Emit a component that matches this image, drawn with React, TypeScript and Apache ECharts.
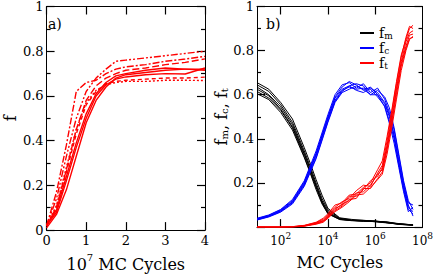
import React, { useEffect, useRef } from 'react';
import * as echarts from 'echarts';

const FONT = 'DejaVu Serif';

// ---------- panel a) ----------
const xA = [0, 0.25, 0.5, 0.75, 1, 1.25, 1.5, 1.75, 2, 2.5, 3, 3.5, 4];
const aSolid1 = [0.01, 0.07, 0.18, 0.33, 0.48, 0.58, 0.64, 0.68, 0.695, 0.705, 0.715, 0.72, 0.72];
const aSolid2 = [0.02, 0.08, 0.22, 0.37, 0.5, 0.6, 0.65, 0.675, 0.685, 0.695, 0.7, 0.698, 0.725];
const aSolid3 = [0.02, 0.09, 0.24, 0.39, 0.52, 0.61, 0.66, 0.69, 0.7, 0.715, 0.725, 0.72, 0.715];
const aDashS = [0.02, 0.1, 0.26, 0.43, 0.56, 0.62, 0.655, 0.665, 0.67, 0.675, 0.68, 0.68, 0.684];
const aDotted = [0.02, 0.11, 0.28, 0.45, 0.57, 0.625, 0.65, 0.66, 0.665, 0.665, 0.67, 0.67, 0.669];
const aDashL = [0.02, 0.1, 0.27, 0.45, 0.58, 0.645, 0.68, 0.7, 0.715, 0.725, 0.74, 0.75, 0.766];
const aDashDot = [0.02, 0.17, 0.38, 0.62, 0.66, 0.67, 0.7, 0.72, 0.73, 0.74, 0.755, 0.765, 0.777];
const aDashDot2 = [0.02, 0.14, 0.33, 0.5, 0.62, 0.68, 0.72, 0.755, 0.76, 0.77, 0.78, 0.79, 0.8];
const aTicksX = ['0', '1', '2', '3', '4'];

// ---------- panel b) (x = log10 of MC cycles) ----------
const xM = [1, 1.5, 2, 2.5, 3, 3.25, 3.5, 3.75, 4, 4.5, 5, 5.5, 6, 6.5, 7, 7.6];
const fm1 = [0.655, 0.625, 0.565, 0.49, 0.36, 0.29, 0.215, 0.145, 0.085, 0.042, 0.035, 0.03, 0.028, 0.022, 0.016, 0.01];
const fm2 = [0.645, 0.615, 0.555, 0.475, 0.345, 0.275, 0.2, 0.13, 0.078, 0.04, 0.032, 0.031, 0.026, 0.024, 0.014, 0.009];
const fm3 = [0.635, 0.6, 0.545, 0.465, 0.335, 0.265, 0.19, 0.12, 0.07, 0.038, 0.03, 0.028, 0.027, 0.02, 0.015, 0.01];
const fm4 = [0.625, 0.595, 0.535, 0.455, 0.33, 0.26, 0.185, 0.115, 0.065, 0.036, 0.031, 0.027, 0.025, 0.021, 0.013, 0.008];
const fm5 = [0.615, 0.585, 0.53, 0.45, 0.32, 0.25, 0.18, 0.11, 0.062, 0.035, 0.029, 0.029, 0.024, 0.019, 0.014, 0.01];
const fm6 = [0.605, 0.578, 0.52, 0.44, 0.315, 0.245, 0.17, 0.105, 0.06, 0.034, 0.03, 0.026, 0.026, 0.02, 0.012, 0.009];

const xC = [1, 1.5, 2, 2.5, 3, 3.5, 4, 4.3, 4.6, 4.9, 5.2, 5.5, 5.8, 6.1, 6.4, 6.6, 6.8, 7.0, 7.2, 7.4, 7.6];
const fc1 = [0.04, 0.055, 0.08, 0.125, 0.21, 0.345, 0.51, 0.6, 0.645, 0.655, 0.63, 0.65, 0.61, 0.63, 0.58, 0.52, 0.44, 0.32, 0.2, 0.11, 0.1];
const fc2 = [0.038, 0.053, 0.078, 0.12, 0.205, 0.335, 0.5, 0.59, 0.635, 0.66, 0.645, 0.62, 0.635, 0.6, 0.56, 0.5, 0.42, 0.3, 0.18, 0.09, 0.07];
const fc3 = [0.036, 0.05, 0.075, 0.115, 0.2, 0.33, 0.495, 0.585, 0.625, 0.64, 0.65, 0.64, 0.6, 0.62, 0.59, 0.54, 0.45, 0.33, 0.21, 0.12, 0.08];
const fc4 = [0.035, 0.05, 0.073, 0.113, 0.195, 0.325, 0.49, 0.575, 0.62, 0.635, 0.625, 0.63, 0.625, 0.59, 0.55, 0.48, 0.4, 0.28, 0.17, 0.08, 0.06];
const fc5 = [0.033, 0.048, 0.07, 0.11, 0.19, 0.315, 0.48, 0.57, 0.615, 0.64, 0.62, 0.61, 0.63, 0.61, 0.565, 0.51, 0.41, 0.29, 0.19, 0.1, 0.05];
const fc6 = [0.032, 0.046, 0.068, 0.105, 0.185, 0.31, 0.475, 0.565, 0.61, 0.625, 0.64, 0.625, 0.6, 0.6, 0.545, 0.47, 0.38, 0.27, 0.16, 0.07, 0.09];

const xT = [1, 2, 2.5, 3, 3.5, 3.8, 4, 4.3, 4.6, 4.9, 5.2, 5.5, 5.8, 6.1, 6.3, 6.5, 6.7, 6.9, 7.1, 7.3, 7.45, 7.6];
const ft1 = [0, 0, 0.002, 0.008, 0.022, 0.04, 0.06, 0.1, 0.11, 0.145, 0.15, 0.18, 0.2, 0.26, 0.3, 0.41, 0.53, 0.66, 0.78, 0.85, 0.9, 0.915];
const ft2 = [0, 0, 0.002, 0.007, 0.02, 0.035, 0.055, 0.09, 0.115, 0.13, 0.165, 0.19, 0.185, 0.245, 0.28, 0.39, 0.52, 0.65, 0.77, 0.86, 0.91, 0.9];
const ft3 = [0, 0, 0.001, 0.006, 0.018, 0.03, 0.05, 0.085, 0.1, 0.14, 0.14, 0.17, 0.21, 0.23, 0.27, 0.37, 0.5, 0.63, 0.75, 0.84, 0.88, 0.89];
const ft4 = [0, 0, 0.001, 0.005, 0.016, 0.028, 0.045, 0.08, 0.105, 0.12, 0.155, 0.16, 0.19, 0.24, 0.26, 0.36, 0.48, 0.62, 0.74, 0.82, 0.87, 0.875];
const ft5 = [0, 0, 0.001, 0.005, 0.015, 0.025, 0.042, 0.075, 0.095, 0.125, 0.13, 0.175, 0.175, 0.22, 0.25, 0.35, 0.47, 0.6, 0.73, 0.81, 0.855, 0.86];
const ft6 = [0, 0, 0, 0.004, 0.013, 0.022, 0.04, 0.07, 0.09, 0.115, 0.145, 0.15, 0.18, 0.215, 0.24, 0.33, 0.45, 0.58, 0.71, 0.8, 0.85, 0.865];

const bTickExps = [2, 4, 6];
const bLabelExps = [2, 4, 6, 8];
const legendNames = ['fm', 'fc', 'ft'];

const zip = (xs: number[], ys: number[]) => xs.map((x, i) => [x, ys[i]]);

export default function App() {
  const ref = useRef<HTMLDivElement>(null);
  useEffect(() => {
    const chart = echarts.init(ref.current!, null, { renderer: 'svg' });
    const axisLine = { show: true, onZero: false, lineStyle: { color: '#000', width: 1 } };
    const tick = { show: true, inside: true, length: 8, lineStyle: { color: '#000', width: 1.2 } };
    const minor = { show: true, splitNumber: 2, length: 4, lineStyle: { color: '#000', width: 1.2 } };
    const lbl = { fontFamily: FONT, fontSize: 13, color: '#000' };

    const aStyles: any[] = [
      { d: aSolid1, t: 'solid' },
      { d: aSolid2, t: 'solid' },
      { d: aSolid3, t: 'solid' },
      { d: aDashS, t: [4, 3] },
      { d: aDotted, t: [2, 2] },
      { d: aDashL, t: [7, 3] },
      { d: aDashDot, t: [7, 2, 2, 2] },
      { d: aDashDot2, t: [7, 2, 2, 2, 2, 2] },
    ];
    const series: any[] = aStyles.map((s) => ({
      type: 'line',
      xAxisIndex: 0,
      yAxisIndex: 0,
      data: zip(xA, s.d),
      showSymbol: false,
      silent: true,
      lineStyle: { color: '#ff0000', width: 1.4, type: s.t },
    }));
    const bundle = (name: string, color: string, xs: number[], lines: number[][]) =>
      lines.forEach((ys) =>
        series.push({
          type: 'line',
          name,
          xAxisIndex: 2,
          yAxisIndex: 2,
          data: zip(xs, ys),
          showSymbol: false,
          silent: true,
          itemStyle: { color },
          lineStyle: { color, width: 1 },
        })
      );
    bundle('fm', '#000000', xM, [fm1, fm2, fm3, fm4, fm5, fm6]);
    bundle('fc', '#0000ff', xC, [fc1, fc2, fc3, fc4, fc5, fc6]);
    bundle('ft', '#ff0000', xT, [ft1, ft2, ft3, ft4, ft5, ft6]);

    const subRich = {
      f: { fontFamily: FONT, fontSize: 16, lineHeight: 18, color: '#000', verticalAlign: 'bottom' },
      s: { fontFamily: FONT, fontSize: 10, lineHeight: 8, color: '#000', verticalAlign: 'bottom' },
    };

    const option: any = {
      animation: false,
      backgroundColor: '#fff',
      textStyle: { fontFamily: FONT },
      title: [
        { text: 'a)', left: 43, top: 12, textStyle: { fontFamily: FONT, fontSize: 14, fontWeight: 'normal', color: '#000' } },
        { text: 'b)', left: 261, top: 12, textStyle: { fontFamily: FONT, fontSize: 14, fontWeight: 'normal', color: '#000' } },
      ],
      legend: {
        data: legendNames.map((n) => ({ name: n, icon: 'rect' })),
        orient: 'vertical',
        left: 355,
        top: 21,
        itemWidth: 14,
        itemHeight: 2,
        itemGap: 1,
        selectedMode: false,
        formatter: (n: string) => `{f|f}{s|${n.slice(1)}}`,
        textStyle: {
          fontFamily: FONT,
          lineHeight: 14,
          rich: {
            f: { fontFamily: FONT, fontSize: 14, lineHeight: 14, color: '#000', verticalAlign: 'bottom' },
            s: { fontFamily: FONT, fontSize: 9, lineHeight: 6, color: '#000', verticalAlign: 'bottom' },
          },
        },
      },
      grid: [
        { left: 37, top: 5, width: 168, height: 232 },
        { left: 257, top: 5, width: 169, height: 232 },
      ],
      xAxis: [
        {
          type: 'value', gridIndex: 0, min: 0, max: 4, interval: 1, position: 'bottom',
          axisLine, axisTick: tick, splitLine: { show: false },
          axisLabel: { ...lbl, margin: 4, formatter: (v: number) => aTicksX[v] ?? '' },
          name: '{n|10}{p|7}{n| MC Cycles}', nameLocation: 'middle', nameGap: 19,
          nameTextStyle: {
            fontFamily: FONT, color: '#000',
            rich: {
              n: { fontFamily: FONT, fontSize: 16, lineHeight: 20, color: '#000', verticalAlign: 'bottom' },
              p: { fontFamily: FONT, fontSize: 10, lineHeight: 11, color: '#000', verticalAlign: 'top' },
            },
          },
        },
        {
          type: 'value', gridIndex: 0, min: 0, max: 4, interval: 1, position: 'top',
          axisLine, axisTick: tick, axisLabel: { show: false }, splitLine: { show: false },
        },
        {
          type: 'value', gridIndex: 1, min: 1, max: 8, position: 'bottom',
          axisLine, axisTick: { ...tick, customValues: bTickExps }, splitLine: { show: false },
          axisLabel: {
            ...lbl, margin: 4, customValues: bLabelExps,
            formatter: (v: number) => `{b|10}{p|${v}}`,
            rich: {
              b: { fontFamily: FONT, fontSize: 12, lineHeight: 16, color: '#000', verticalAlign: 'bottom' },
              p: { fontFamily: FONT, fontSize: 9, lineHeight: 10, color: '#000', verticalAlign: 'top' },
            },
          },
          name: 'MC Cycles', nameLocation: 'middle', nameGap: 19,
          nameTextStyle: { fontFamily: FONT, fontSize: 16, lineHeight: 20, color: '#000' },
        },
        {
          type: 'value', gridIndex: 1, min: 1, max: 8, position: 'top',
          axisLine, axisTick: { ...tick, customValues: bTickExps }, axisLabel: { show: false }, splitLine: { show: false },
        },
      ],
      yAxis: [
        {
          type: 'value', gridIndex: 0, min: 0, max: 1, interval: 0.2, position: 'left',
          axisLine, axisTick: tick, minorTick: minor, splitLine: { show: false },
          axisLabel: { ...lbl, margin: 3 },
          name: 'f', nameLocation: 'middle', nameGap: 19,
          nameTextStyle: { fontFamily: FONT, fontSize: 16, lineHeight: 18, color: '#000' },
        },
        {
          type: 'value', gridIndex: 0, min: 0, max: 1, interval: 0.2, position: 'right',
          axisLine, axisTick: tick, minorTick: minor, axisLabel: { show: false }, splitLine: { show: false },
        },
        {
          type: 'value', gridIndex: 1, min: 0, max: 1, interval: 0.2, position: 'left',
          axisLine, axisTick: tick, minorTick: minor, splitLine: { show: false },
          axisLabel: { ...lbl, margin: 3, formatter: (v: number) => (v === 0 ? '' : String(v)) },
          name: '{f|f}{s|m}{f|, f}{s|c}{f|, f}{s|t}', nameLocation: 'middle', nameGap: 27,
          nameTextStyle: { fontFamily: FONT, color: '#000', rich: subRich },
        },
        {
          type: 'value', gridIndex: 1, min: 0, max: 1, interval: 0.2, position: 'right',
          axisLine, axisTick: tick, minorTick: minor, axisLabel: { show: false }, splitLine: { show: false },
        },
      ],
      series,
    };
    chart.setOption(option);
    return () => chart.dispose();
  }, []);
  return <div ref={ref} style={{ position: 'absolute', left: 0, top: 0, width: 436, height: 277 }} />;
}
